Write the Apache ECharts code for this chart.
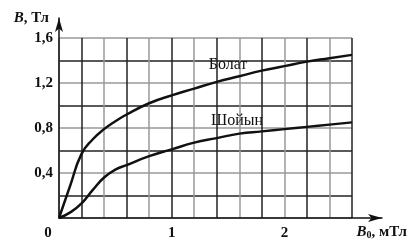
<!DOCTYPE html>
<html>
<head>
<meta charset="utf-8">
<script src="https://cdn.jsdelivr.net/npm/echarts@6/dist/echarts.min.js"></script>
<style>
  html, body { margin: 0; padding: 0; background: #fff; }
  #chart { width: 410px; height: 241px; }
</style>
</head>
<body>
<div id="chart"></div>
<script>
// B0, mT
var fieldB0 = [0, 0.1, 0.2, 0.3, 0.4, 0.5, 0.6, 0.8, 1.0, 1.2, 1.4, 1.6, 1.8, 2.0, 2.2, 2.4, 2.6];
// B, T
var steelB = [0, 0.29, 0.57, 0.7, 0.79, 0.86, 0.92, 1.02, 1.09, 1.15, 1.21, 1.26, 1.31, 1.35, 1.39, 1.42, 1.45];
var ironB = [0, 0.05, 0.13, 0.25, 0.36, 0.43, 0.47, 0.55, 0.61, 0.67, 0.71, 0.75, 0.77, 0.79, 0.81, 0.83, 0.85];
var seriesNames = ['Болат', 'Шойын'];
var labelPos = [[1.5, 1.36], [1.58, 0.86]];

var serif = '"Liberation Serif", "DejaVu Serif", serif';

function pairs(ys) {
    return fieldB0.map(function(x, i) { return [x, ys[i]]; });
}

var myChart = echarts.init(document.getElementById('chart'));

function curve(name, ys, pos) {
    return {
        name: name,
        type: 'line',
        xAxisIndex: 0,
        yAxisIndex: 0,
        data: pairs(ys),
        smooth: 0.5,
        symbol: 'none',
        lineStyle: { color: '#111', width: 2.5 },
        markPoint: {
            symbol: 'circle',
            symbolSize: 0,
            label: {
                show: true,
                position: 'inside',
                formatter: name,
                fontFamily: serif,
                fontSize: 16,
                color: '#111'
            },
            data: [{ coord: pos }]
        }
    };
}

var option = {
    animation: false,
    grid: [
        { left: 59, right: 58, top: 38, bottom: 23 },
        { left: 59, right: 27, top: 18, bottom: 23 }
    ],
    xAxis: [{
        type: 'value',
        gridIndex: 0,
        min: 0,
        max: 2.6,
        interval: 0.2,
        axisLine: { show: false },
        axisTick: { show: false },
        splitLine: { show: true, lineStyle: { color: ['#999', '#222'], width: 1.5 } },
        axisLabel: {
            margin: 8,
            fontFamily: serif,
            fontWeight: 'bold',
            fontSize: 15,
            color: '#111',
            formatter: function(v) {
                var r = Math.round(v * 10);
                if (r === 0) return '{z|0}';
                return r % 10 === 0 ? String(r / 10) : '';
            },
            rich: {
                z: { fontFamily: serif, fontWeight: 'bold', fontSize: 15, color: '#111', padding: [0, 22, 0, 0] }
            }
        }
    }, {
        type: 'value',
        gridIndex: 1,
        min: 0,
        max: 1,
        axisLine: { show: true, symbol: ['none', 'arrow'], symbolSize: [6, 14], lineStyle: { color: '#111', width: 1.5 } },
        axisTick: { show: false },
        axisLabel: { show: false },
        splitLine: { show: false },
        name: '{i|B}{s|0}{n|, мТл}',
        nameLocation: 'end',
        nameGap: 25,
        nameTextStyle: {
            align: 'right',
            verticalAlign: 'top',
            padding: [6, 0, 0, 0],
            rich: {
                i: { fontFamily: serif, fontStyle: 'italic', fontWeight: 'bold', fontSize: 15, color: '#111' },
                s: { fontFamily: serif, fontWeight: 'bold', fontSize: 10, color: '#111', padding: [6, 0, 0, 0] },
                n: { fontFamily: serif, fontWeight: 'bold', fontSize: 15, color: '#111' }
            }
        }
    }],
    yAxis: [{
        type: 'value',
        gridIndex: 0,
        min: 0,
        max: 1.6,
        interval: 0.2,
        axisLine: { show: false },
        axisTick: { show: false },
        splitLine: { show: true, lineStyle: { color: ['#999', '#222'], width: 1.5 } },
        axisLabel: {
            margin: 6,
            fontFamily: serif,
            fontWeight: 'bold',
            fontSize: 15,
            color: '#111',
            formatter: function(v) {
                var r = Math.round(v * 10);
                if (r === 0 || r % 4 !== 0) return '';
                return (r / 10).toFixed(1).replace('.', ',');
            }
        }
    }, {
        type: 'value',
        gridIndex: 1,
        min: 0,
        max: 1,
        axisLine: { show: true, symbol: ['none', 'arrow'], symbolSize: [6, 14], lineStyle: { color: '#111', width: 1.5 } },
        axisTick: { show: false },
        axisLabel: { show: false },
        splitLine: { show: false },
        name: '{i|B}{n|, Тл}',
        nameLocation: 'end',
        nameGap: -8,
        nameTextStyle: {
            align: 'right',
            padding: [0, 10, 0, 0],
            rich: {
                i: { fontFamily: serif, fontStyle: 'italic', fontWeight: 'bold', fontSize: 15, color: '#111' },
                n: { fontFamily: serif, fontWeight: 'bold', fontSize: 15, color: '#111' }
            }
        }
    }],
    series: [
        curve(seriesNames[0], steelB, labelPos[0]),
        curve(seriesNames[1], ironB, labelPos[1])
    ]
};

myChart.setOption(option);
</script>
</body>
</html>
